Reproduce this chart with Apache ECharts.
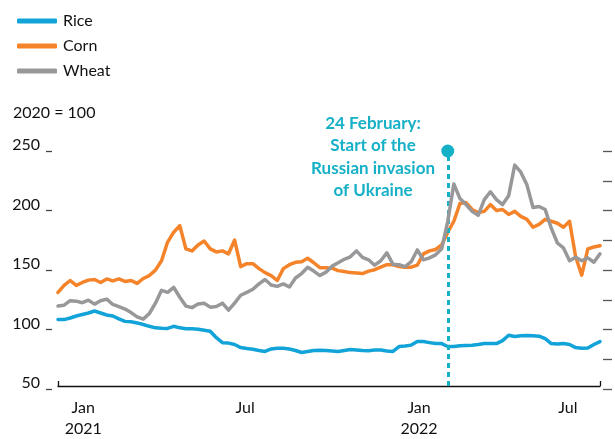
<!DOCTYPE html>
<html>
<head>
<meta charset="utf-8">
<title>Rice, corn and wheat prices</title>
<script src="https://cdn.jsdelivr.net/npm/echarts@6/dist/echarts.min.js"></script>
<style>
  html, body { margin: 0; padding: 0; background: #fff; }
  #chart { width: 615px; height: 439px; }
</style>
</head>
<body>
<div id="chart"></div>
<script>
// ---- data (index, 2020 = 100), one point per week ----
const startDay = -29;   // days from 1 Jan 2021
const stepDays = 7;

const rice = [106.5, 106.5, 107.9, 109.6, 110.8, 112.1, 113.8, 112.1, 110.4, 109.6,
  107.1, 105, 104.6, 103.7, 102.3, 100.8, 99.5, 99.1, 99, 100.8,
  99.5, 98.7, 98.7, 98.3, 97.4, 96.6, 91.1, 86.9, 86.5, 85.3,
  82.7, 81.9, 81.3, 80.2, 79.4, 81.5, 82.1, 82.1, 81.5, 80.2,
  78.5, 79.4, 80.2, 80.5, 80.2, 79.8, 79.4, 80.2, 81.1, 80.6,
  80.2, 80, 80.6, 80.6, 79.8, 79.4, 83.6, 84, 84.8, 87.8,
  87.8, 86.9, 86.1, 86.1, 83.6, 83.6, 84.2, 84.4, 84.7, 85.3,
  86.1, 86.1, 86.1, 88.6, 93.2, 92.2, 92.8, 93, 92.8, 92.4,
  90.3, 86.1, 85.7, 86.1, 85.3, 82.7, 82.1, 82.3, 85.3, 87.8];

const corn = [129.7, 135.6, 139.8, 135.6, 138.1, 140.1, 140.6, 138.1, 141.1, 139.4,
  141.1, 139, 139.8, 137.3, 141.5, 144, 148.6, 156.6, 172.5, 180.9,
  186.5, 166.7, 165, 170, 173.4, 166.7, 164.1, 165, 162.5, 174.2,
  151.6, 154.1, 154.1, 149.9, 146.5, 144, 139.8, 149.9, 153.2, 155.3,
  155.8, 158.7, 154.9, 150.7, 150.7, 150.3, 148.2, 147.4, 146.5, 146.1,
  145.7, 147.8, 149, 151.1, 153.2, 153.2, 151.6, 151.1, 151.1, 152.8,
  162.5, 165, 166.2, 170, 180.9, 190.2, 205.3, 206.1, 200.2, 197.7,
  198.6, 204.4, 199.4, 200.2, 196, 198.6, 194.4, 191.8, 185.1, 187.6,
  191.8, 190.2, 188.5, 185.1, 190.2, 160, 144.3, 166.7, 168.3, 169.4];

const wheat = [118, 118.8, 122.6, 122.2, 120.9, 123, 119.7, 122.6, 123.9, 119.4,
  117.6, 115.5, 112.5, 108.8, 106.9, 111.7, 120.5, 131.4, 129.7, 133.9,
  125.5, 118, 116.7, 119.7, 120.5, 117.1, 117.6, 120.5, 114.6, 120.5,
  127.2, 129.7, 132.3, 136.9, 140.6, 136, 134.8, 136.9, 134.3, 141.9,
  145.7, 151.1, 147.8, 144, 146.9, 152, 154.9, 157.8, 159.9, 165,
  159.5, 157.4, 152.8, 156.6, 163.3, 153.7, 153.2, 151.6, 155.8, 165.8,
  157.4, 159.1, 161.6, 166.7, 190.2, 222, 209.5, 204.4, 198.6, 195.2,
  208.6, 215.3, 208.6, 204.4, 212, 238, 232, 221.2, 201.9, 202.8,
  200.2, 184.3, 171.7, 167.5, 156.6, 159.5, 156.6, 159.1, 155.3, 162.5];

const seriesNames = ['Rice', 'Corn', 'Wheat'];
const seriesColors = ['#12a3d8', '#f5832a', '#98989b'];

// x-axis labels: day offsets from 1 Jan 2021
const xLabelDays = [0, 186, 386, 557];
const xLabelTexts = ['Jan\n2021', 'Jul', 'Jan\n2022', 'Jul'];

const invasionDay = 419;      // 24 Feb 2022
const yMin = 50, yMax = 250;

const endDay = startDay + (rice.length - 1) * stepDays;
const teal = '#16b1c7';
const font = 'Lato, "Open Sans", sans-serif';

function toPoints(values) {
    return values.map((v, i) => [startDay + i * stepDays, v]);
}

const chart = echarts.init(document.getElementById('chart'));

const lineSeries = [rice, corn, wheat].map((values, k) => ({
    name: seriesNames[k],
    type: 'line',
    data: toPoints(values),
    showSymbol: false,
    symbol: 'none',
    lineStyle: { width: 3.5, color: seriesColors[k], join: 'round', cap: 'round' },
    itemStyle: { color: seriesColors[k] },
    z: 3 + k
}));

// invasion marker on the rice series
lineSeries[0].markLine = {
    silent: true,
    symbol: 'none',
    label: { show: false },
    lineStyle: { color: teal, type: [5, 4], width: 3 },
    data: [[{ coord: [invasionDay, yMin] }, { coord: [invasionDay, yMax] }]]
};
lineSeries[0].markPoint = {
    silent: true,
    symbol: 'circle',
    symbolSize: 13,
    itemStyle: { color: teal },
    label: { show: false },
    data: [{ coord: [invasionDay, yMax] }]
};

// thin helper grids only carry the left labels/ticks and the right ticks
const gridTop = 151, gridBottom = 50;

chart.setOption({
    animation: false,
    textStyle: { fontFamily: font },
    legend: {
        orient: 'vertical',
        left: 12,
        top: 8,
        itemWidth: 40,
        itemHeight: 5,
        itemGap: 9,
        icon: 'roundRect',
        data: seriesNames,
        textStyle: { fontSize: 16, color: '#111', fontFamily: font, padding: [0, 0, 0, 1] },
        selectedMode: false
    },
    graphic: [
        {
            type: 'text',
            left: 13,
            top: 105,
            style: { text: '2020 = 100', font: '16px ' + font, fill: '#111' }
        },
        {
            type: 'text',
            x: 373,
            y: 112,
            style: {
                text: '24 February:\nStart of the\nRussian invasion\nof Ukraine',
                font: 'bold 17px ' + font,
                fill: teal,
                align: 'center',
                lineHeight: 22.5
            }
        }
    ],
    grid: [
        { left: 58, right: 15, top: gridTop, bottom: gridBottom },
        { left: 52, width: 1, top: gridTop, bottom: gridBottom },
        { left: 603, width: 1, top: gridTop, bottom: gridBottom }
    ],
    xAxis: [
        {
            type: 'value',
            gridIndex: 0,
            min: startDay,
            max: endDay,
            splitLine: { show: false },
            axisLine: { show: true, lineStyle: { color: '#111', width: 1.3 } },
            axisTick: {
                show: true,
                inside: true,
                length: 5,
                customValues: [startDay, endDay],
                lineStyle: { color: '#111', width: 1.3 }
            },
            axisLabel: {
                customValues: xLabelDays,
                formatter: v => xLabelTexts[xLabelDays.indexOf(v)] || '',
                fontSize: 16,
                color: '#111',
                lineHeight: 21,
                margin: 11
            }
        },
        { type: 'value', gridIndex: 1, show: false, min: 0, max: 1 },
        { type: 'value', gridIndex: 2, show: false, min: 0, max: 1 }
    ],
    yAxis: [
        {
            type: 'value',
            gridIndex: 0,
            min: yMin,
            max: yMax,
            show: false
        },
        {
            type: 'value',
            gridIndex: 1,
            position: 'left',
            min: yMin,
            max: yMax,
            interval: 50,
            splitLine: { show: false },
            axisLine: { show: false },
            axisTick: { show: true, length: 6, lineStyle: { color: '#444', width: 1.3 } },
            axisLabel: {
                color: '#111',
                fontSize: 16,
                margin: 12,
                verticalAlign: 'bottom',
                lineHeight: 12
            }
        },
        {
            type: 'value',
            gridIndex: 2,
            position: 'right',
            min: yMin,
            max: yMax,
            interval: 25,
            splitLine: { show: false },
            axisLine: { show: false },
            axisTick: { show: true, length: 9, lineStyle: { color: '#555', width: 1.3 } },
            axisLabel: { show: false }
        }
    ],
    series: lineSeries
});
</script>
</body>
</html>
